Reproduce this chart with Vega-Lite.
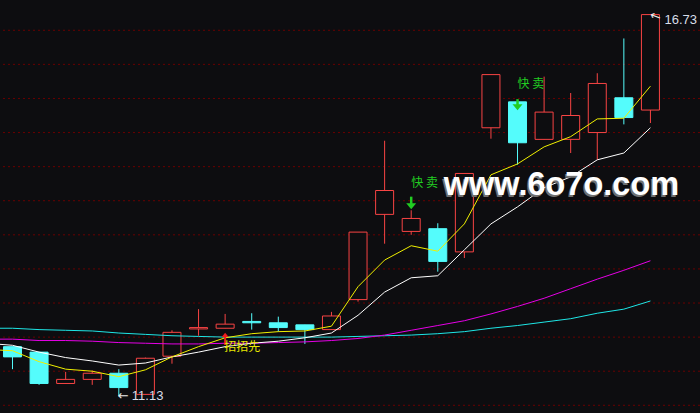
{
  "$schema": "https://vega.github.io/schema/vega-lite/v6.json",
  "width": 700,
  "height": 413,
  "autosize": {"type": "fit", "contains": "padding"},
  "padding": 0,
  "background": "#0d0d10",
  "config": {"view": {"stroke": null}},
  "datasets": {
    "levels": [
      {"p": 11}, {"p": 11.5}, {"p": 12}, {"p": 12.5}, {"p": 13}, {"p": 13.5},
      {"p": 14}, {"p": 14.5}, {"p": 15}, {"p": 15.5}, {"p": 16}, {"p": 16.5}
    ],
    "candles": [
      {"i": 0, "open": 11.86, "high": 11.86, "low": 11.53, "close": 11.71},
      {"i": 1, "open": 11.78, "high": 11.78, "low": 11.30, "close": 11.32},
      {"i": 2, "open": 11.32, "high": 11.49, "low": 11.32, "close": 11.38},
      {"i": 3, "open": 11.38, "high": 11.51, "low": 11.30, "close": 11.47},
      {"i": 4, "open": 11.47, "high": 11.53, "low": 11.13, "close": 11.26},
      {"i": 5, "open": 11.16, "high": 11.70, "low": 11.16, "close": 11.69},
      {"i": 6, "open": 11.72, "high": 12.10, "low": 11.61, "close": 12.07},
      {"i": 7, "open": 12.12, "high": 12.41, "low": 12.02, "close": 12.14},
      {"i": 8, "open": 12.13, "high": 12.34, "low": 12.13, "close": 12.19},
      {"i": 9, "open": 12.23, "high": 12.35, "low": 12.11, "close": 12.21},
      {"i": 10, "open": 12.21, "high": 12.30, "low": 12.08, "close": 12.14},
      {"i": 11, "open": 12.18, "high": 12.18, "low": 11.90, "close": 12.11},
      {"i": 12, "open": 12.11, "high": 12.37, "low": 12.11, "close": 12.31},
      {"i": 13, "open": 12.55, "high": 13.54, "low": 12.52, "close": 13.54},
      {"i": 14, "open": 13.80, "high": 14.88, "low": 13.37, "close": 14.15},
      {"i": 15, "open": 13.55, "high": 13.86, "low": 13.50, "close": 13.74},
      {"i": 16, "open": 13.59, "high": 13.67, "low": 12.96, "close": 13.11},
      {"i": 17, "open": 13.25, "high": 14.40, "low": 13.16, "close": 14.40},
      {"i": 18, "open": 15.07, "high": 15.85, "low": 14.91, "close": 15.85},
      {"i": 19, "open": 15.45, "high": 15.45, "low": 14.53, "close": 14.85},
      {"i": 20, "open": 14.90, "high": 15.82, "low": 14.90, "close": 15.30},
      {"i": 21, "open": 14.90, "high": 15.58, "low": 14.70, "close": 15.25},
      {"i": 22, "open": 15.00, "high": 15.87, "low": 14.60, "close": 15.72},
      {"i": 23, "open": 15.51, "high": 16.38, "low": 15.12, "close": 15.22},
      {"i": 24, "open": 15.33, "high": 16.73, "low": 15.14, "close": 16.73}
    ],
    "ma": [
      {"i": -1, "ma5": 11.82, "ma10": 11.91, "ma30": 11.97, "ma60": 12.13},
      {"i": 0, "ma5": 11.80, "ma10": 11.88, "ma30": 11.97, "ma60": 12.13},
      {"i": 1, "ma5": 11.64, "ma10": 11.78, "ma30": 11.95, "ma60": 12.11},
      {"i": 2, "ma5": 11.53, "ma10": 11.70, "ma30": 11.95, "ma60": 12.10},
      {"i": 3, "ma5": 11.50, "ma10": 11.65, "ma30": 11.94, "ma60": 12.09},
      {"i": 4, "ma5": 11.42, "ma10": 11.59, "ma30": 11.92, "ma60": 12.06},
      {"i": 5, "ma5": 11.52, "ma10": 11.62, "ma30": 11.91, "ma60": 12.04},
      {"i": 6, "ma5": 11.71, "ma10": 11.71, "ma30": 11.90, "ma60": 12.02},
      {"i": 7, "ma5": 11.86, "ma10": 11.78, "ma30": 11.90, "ma60": 12.01},
      {"i": 8, "ma5": 11.99, "ma10": 11.86, "ma30": 11.91, "ma60": 12.00},
      {"i": 9, "ma5": 12.05, "ma10": 11.91, "ma30": 11.91, "ma60": 12.00},
      {"i": 10, "ma5": 12.08, "ma10": 11.94, "ma30": 11.92, "ma60": 12.00},
      {"i": 11, "ma5": 12.09, "ma10": 11.99, "ma30": 11.93, "ma60": 12.00},
      {"i": 12, "ma5": 12.16, "ma10": 12.06, "ma30": 11.95, "ma60": 12.00},
      {"i": 13, "ma5": 12.74, "ma10": 12.32, "ma30": 11.98, "ma60": 12.01},
      {"i": 14, "ma5": 13.13, "ma10": 12.66, "ma30": 12.03, "ma60": 12.02},
      {"i": 15, "ma5": 13.34, "ma10": 12.87, "ma30": 12.10, "ma60": 12.03},
      {"i": 16, "ma5": 13.26, "ma10": 12.90, "ma30": 12.17, "ma60": 12.05},
      {"i": 17, "ma5": 13.66, "ma10": 13.28, "ma30": 12.24, "ma60": 12.08},
      {"i": 18, "ma5": 14.38, "ma10": 13.66, "ma30": 12.34, "ma60": 12.13},
      {"i": 19, "ma5": 14.54, "ma10": 13.91, "ma30": 12.45, "ma60": 12.17},
      {"i": 20, "ma5": 14.79, "ma10": 14.19, "ma30": 12.57, "ma60": 12.22},
      {"i": 21, "ma5": 14.94, "ma10": 14.35, "ma30": 12.71, "ma60": 12.27},
      {"i": 22, "ma5": 15.20, "ma10": 14.60, "ma30": 12.85, "ma60": 12.35},
      {"i": 23, "ma5": 15.21, "ma10": 14.70, "ma30": 12.98, "ma60": 12.41},
      {"i": 24, "ma5": 15.68, "ma10": 15.07, "ma30": 13.12, "ma60": 12.53}
    ],
    "sells": [
      {"i": 15, "label": "快 卖", "p_text": 14.26, "p_top": 14.06, "p_bot": 13.95, "p_head": 13.92},
      {"i": 19, "label": "快 卖", "p_text": 15.71, "p_top": 15.49, "p_bot": 15.40, "p_head": 15.37}
    ],
    "buys": [
      {"i": 8, "label": "招招先", "p_text": 11.862, "p_top": 12.016, "p_bot": 11.884, "p_head": 12.032}
    ],
    "extremes": [
      {"i": 24, "p": 16.73, "label": "16.73", "side": "high"},
      {"i": 4, "p": 11.13, "label": "11.13", "side": "low"}
    ],
    "brand": [
      {"i": 16, "p": 14.08, "label": "www.6o7o.com"}
    ]
  },
  "layer": [
    {
      "data": {"name": "levels"},
      "mark": {"type": "rule", "color": "#6a0000", "strokeWidth": 1, "strokeDash": [2, 3], "clip": true},
      "encoding": {
        "y": {"field": "p", "type": "quantitative", "scale": {"domain": [10.887, 16.944], "nice": false, "zero": false, "padding": 0}, "axis": null}
      }
    },
    {
      "data": {"name": "candles"},
      "mark": {"type": "rule", "strokeWidth": 1, "clip": true},
      "encoding": {
        "x": {"field": "i", "type": "quantitative", "scale": {"domain": [-0.47, 25.865], "nice": false, "zero": false, "padding": 0}, "axis": null},
        "y": {"field": "low", "type": "quantitative", "axis": null},
        "y2": {"field": "high"},
        "stroke": {"condition": {"test": "datum.close >= datum.open", "value": "#f84444"}, "value": "#54fcfc"}
      }
    },
    {
      "data": {"name": "candles"},
      "mark": {"type": "bar", "width": 18, "strokeWidth": 1, "clip": true},
      "encoding": {
        "x": {"field": "i", "type": "quantitative"},
        "y": {"field": "open", "type": "quantitative"},
        "y2": {"field": "close"},
        "fill": {"condition": {"test": "datum.close >= datum.open", "value": "#0d0d10"}, "value": "#54fcfc"},
        "stroke": {"condition": {"test": "datum.close >= datum.open", "value": "#f84444"}, "value": "#54fcfc"}
      }
    },
    {
      "data": {"name": "ma"},
      "mark": {"type": "line", "color": "#1ee6e6", "strokeWidth": 1, "clip": true},
      "encoding": {"x": {"field": "i", "type": "quantitative"}, "y": {"field": "ma60", "type": "quantitative"}}
    },
    {
      "data": {"name": "ma"},
      "mark": {"type": "line", "color": "#e600e6", "strokeWidth": 1, "clip": true},
      "encoding": {"x": {"field": "i", "type": "quantitative"}, "y": {"field": "ma30", "type": "quantitative"}}
    },
    {
      "data": {"name": "ma"},
      "mark": {"type": "line", "color": "#ffffff", "strokeWidth": 1, "clip": true},
      "encoding": {"x": {"field": "i", "type": "quantitative"}, "y": {"field": "ma10", "type": "quantitative"}}
    },
    {
      "data": {"name": "ma"},
      "mark": {"type": "line", "color": "#f0f000", "strokeWidth": 1, "clip": true},
      "encoding": {"x": {"field": "i", "type": "quantitative"}, "y": {"field": "ma5", "type": "quantitative"}}
    },
    {
      "data": {"name": "sells"},
      "mark": {"type": "rule", "color": "#22cc22", "strokeWidth": 2.5, "clip": true},
      "encoding": {"x": {"field": "i", "type": "quantitative"}, "y": {"field": "p_top", "type": "quantitative"}, "y2": {"field": "p_bot"}}
    },
    {
      "data": {"name": "sells"},
      "mark": {"type": "point", "shape": "M-1,-0.6L1,-0.6L0,0.6Z", "filled": true, "opacity": 1, "color": "#22cc22", "size": 100, "clip": true},
      "encoding": {"x": {"field": "i", "type": "quantitative"}, "y": {"field": "p_head", "type": "quantitative"}}
    },
    {
      "data": {"name": "sells"},
      "mark": {"type": "text", "align": "left", "baseline": "middle", "font": "Noto Sans CJK SC", "fontSize": 12, "color": "#22cc22", "clip": true},
      "encoding": {"x": {"field": "i", "type": "quantitative"}, "y": {"field": "p_text", "type": "quantitative"}, "text": {"field": "label"}}
    },
    {
      "data": {"name": "buys"},
      "mark": {"type": "rule", "color": "#f01e1e", "strokeWidth": 2, "clip": true},
      "encoding": {"x": {"field": "i", "type": "quantitative"}, "y": {"field": "p_top", "type": "quantitative"}, "y2": {"field": "p_bot"}}
    },
    {
      "data": {"name": "buys"},
      "mark": {"type": "point", "shape": "M-1,0.6L1,0.6L0,-0.6Z", "filled": true, "opacity": 1, "color": "#f01e1e", "size": 49, "clip": true},
      "encoding": {"x": {"field": "i", "type": "quantitative"}, "y": {"field": "p_head", "type": "quantitative"}}
    },
    {
      "data": {"name": "buys"},
      "mark": {"type": "text", "align": "left", "baseline": "middle", "dx": -1, "font": "Noto Sans CJK SC", "fontSize": 12, "color": "#e8e800", "clip": true},
      "encoding": {"x": {"field": "i", "type": "quantitative"}, "y": {"field": "p_text", "type": "quantitative"}, "text": {"field": "label"}}
    },
    {
      "data": {"name": "extremes"},
      "transform": [{"filter": "datum.side === 'high'"}],
      "mark": {"type": "text", "align": "left", "baseline": "middle", "angle": 20, "font": "DejaVu Sans", "fontSize": 13, "color": "#e8e8e8", "text": "←", "clip": true},
      "encoding": {"x": {"field": "i", "type": "quantitative"}, "y": {"field": "p", "type": "quantitative"}}
    },
    {
      "data": {"name": "extremes"},
      "transform": [{"filter": "datum.side === 'high'"}],
      "mark": {"type": "text", "align": "left", "baseline": "middle", "dx": 14, "dy": 5, "font": "Liberation Sans", "fontSize": 13, "color": "#d8dee8", "clip": true},
      "encoding": {"x": {"field": "i", "type": "quantitative"}, "y": {"field": "p", "type": "quantitative"}, "text": {"field": "label"}}
    },
    {
      "data": {"name": "extremes"},
      "transform": [{"filter": "datum.side === 'low'"}],
      "mark": {"type": "text", "align": "left", "baseline": "middle", "dx": -1, "font": "DejaVu Sans", "fontSize": 13, "color": "#e8e8e8", "text": "←", "clip": true},
      "encoding": {"x": {"field": "i", "type": "quantitative"}, "y": {"field": "p", "type": "quantitative"}}
    },
    {
      "data": {"name": "extremes"},
      "transform": [{"filter": "datum.side === 'low'"}],
      "mark": {"type": "text", "align": "left", "baseline": "middle", "dx": 13, "font": "Liberation Sans", "fontSize": 13, "color": "#d8dee8", "clip": true},
      "encoding": {"x": {"field": "i", "type": "quantitative"}, "y": {"field": "p", "type": "quantitative"}, "text": {"field": "label"}}
    },
    {
      "data": {"name": "brand"},
      "mark": {"type": "text", "align": "left", "baseline": "alphabetic", "dx": 4.5, "dy": 1.5, "font": "Liberation Sans", "fontWeight": "bold", "fontSize": 32.5, "color": "#707070", "clip": true},
      "encoding": {"x": {"field": "i", "type": "quantitative"}, "y": {"field": "p", "type": "quantitative"}, "text": {"field": "label"}}
    },
    {
      "data": {"name": "brand"},
      "mark": {"type": "text", "align": "left", "baseline": "alphabetic", "dx": 6, "font": "Liberation Sans", "fontWeight": "bold", "fontSize": 32.5, "color": "#ffffff", "clip": true},
      "encoding": {"x": {"field": "i", "type": "quantitative"}, "y": {"field": "p", "type": "quantitative"}, "text": {"field": "label"}}
    }
  ]
}
